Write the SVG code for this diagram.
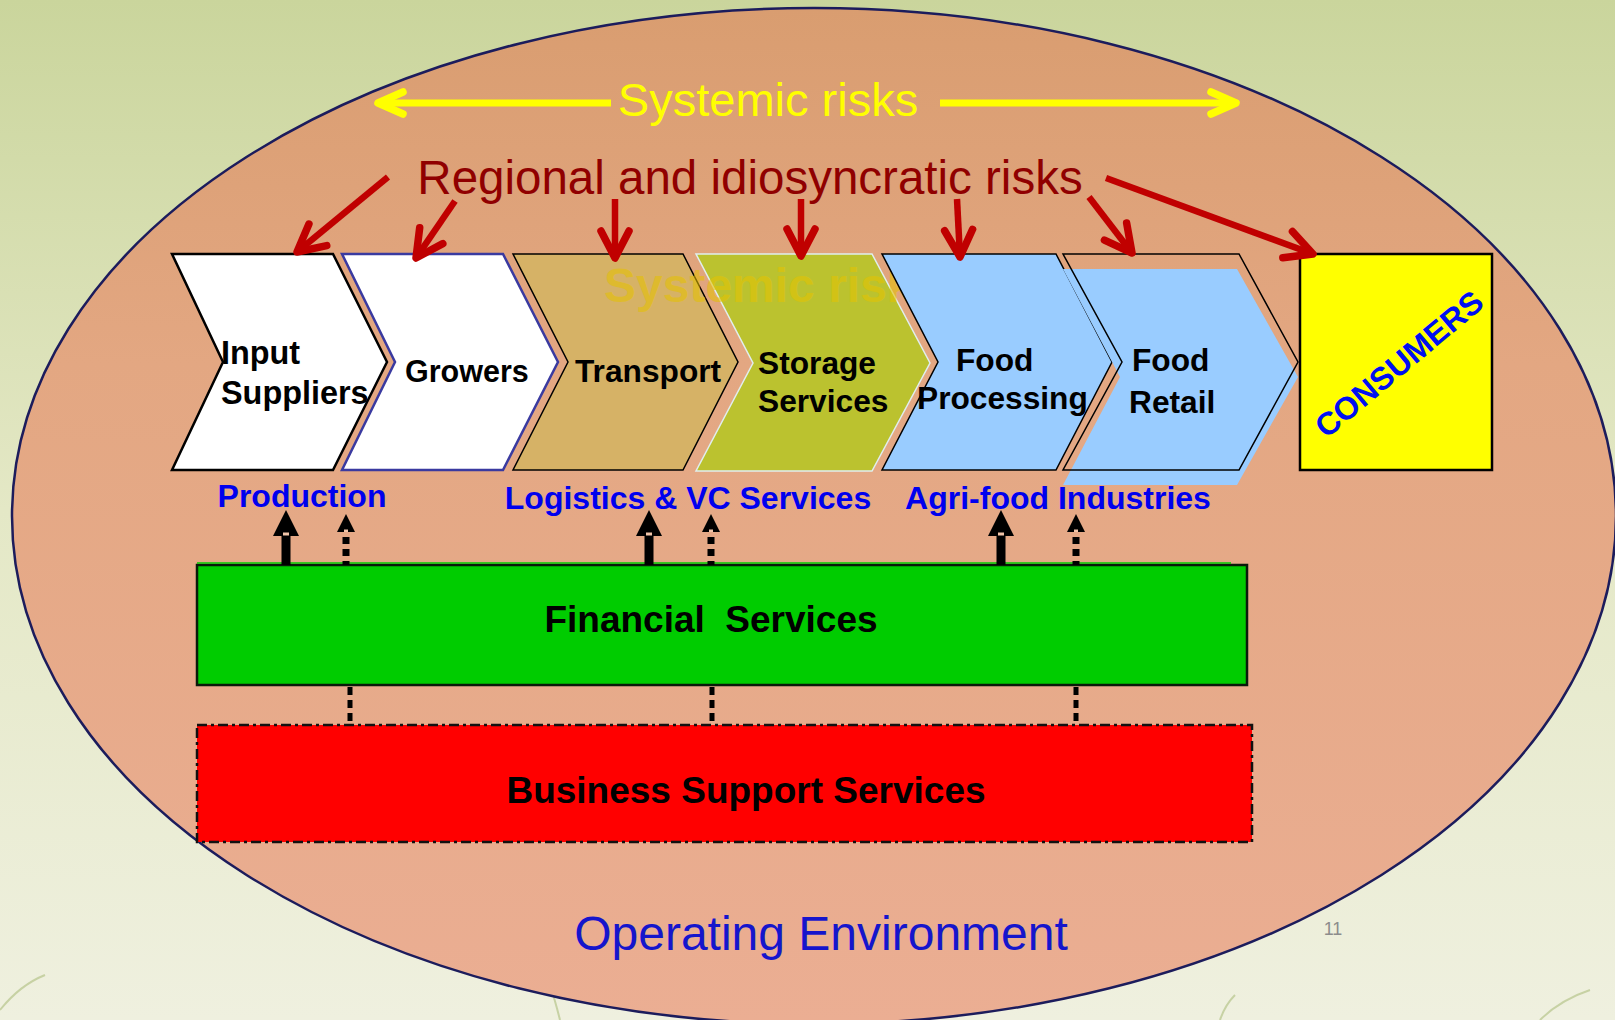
<svg xmlns="http://www.w3.org/2000/svg" width="1615" height="1020" viewBox="0 0 1615 1020">
<style>
.ch{font-family:"Liberation Sans",Arial,sans-serif;font-weight:bold;font-size:31.7px;fill:#000}
.lbl{font-family:"Liberation Sans",Arial,sans-serif;font-weight:bold;font-size:32px;fill:#0000ee;text-anchor:middle}
.big{font-family:"Liberation Sans",Arial,sans-serif;font-size:47px;text-anchor:middle}
.bar{font-family:"Liberation Sans",Arial,sans-serif;font-weight:bold;font-size:37px;fill:#000;text-anchor:middle;white-space:pre}
.red{stroke:#c00000;stroke-width:6.5;fill:none}
.yel{stroke:#ffff00;stroke-width:7;fill:none}
.dot{stroke:#000;stroke-width:7;stroke-dasharray:7 5;fill:none}
.dot2{stroke:#000;stroke-width:5;stroke-dasharray:8 5;fill:none}
</style>
<defs>
<linearGradient id="bg" x1="0" y1="0" x2="0" y2="1">
<stop offset="0" stop-color="#cad59c"/>
<stop offset="0.5" stop-color="#e4e8c6"/>
<stop offset="1" stop-color="#eff0df"/>
</linearGradient>
<linearGradient id="ell" x1="0" y1="0" x2="0" y2="1">
<stop offset="0" stop-color="#d99d70"/>
<stop offset="0.35" stop-color="#e3a782"/>
<stop offset="1" stop-color="#ebae93"/>
</linearGradient>
<marker id="rh" viewBox="-34 -20 40 40" markerWidth="40" markerHeight="40" refX="0" refY="0" orient="auto" markerUnits="userSpaceOnUse" overflow="visible">
<path d="M-27,-14 L0,0 L-27,14" stroke="#c00000" stroke-width="7.5" fill="none" stroke-linecap="round" stroke-linejoin="round"/>
</marker>
<marker id="yh" viewBox="-34 -20 40 40" markerWidth="40" markerHeight="40" refX="0" refY="0" orient="auto" markerUnits="userSpaceOnUse" overflow="visible">
<path d="M-25,-11 L0,0 L-25,11" stroke="#ffff00" stroke-width="7.5" fill="none" stroke-linecap="round" stroke-linejoin="round"/>
</marker>
</defs>
<rect width="1615" height="1020" fill="url(#bg)"/>
<g stroke="#9fb36a" stroke-width="2" fill="none" opacity="0.5">
<path d="M0,1010 Q20,985 45,975"/>
<path d="M560,1020 Q555,1000 550,985"/>
<path d="M870,1020 Q880,1000 905,985"/>
<path d="M1540,1020 Q1560,1000 1590,990"/>
<path d="M1220,1020 Q1225,1005 1235,995"/>
</g>
<g id="environment">
<ellipse cx="814" cy="516" rx="802" ry="508" fill="url(#ell)" stroke="#1c1c5c" stroke-width="2.5"/>
<text class="big" x="821" y="950" style="font-size:48px" fill="#1515cc">Operating Environment</text>
<text x="1333" y="935" font-family="Liberation Sans, Arial, sans-serif" font-size="18" fill="#8c8c8c" text-anchor="middle">11</text>
</g>
<g id="systemic-risks">
<text class="big" x="768" y="116" fill="#ffff00">Systemic risks</text>
</g>
<g id="regional-risks">
<text class="big" x="750" y="194" fill="#900000" style="font-size:47.5px">Regional and idiosyncratic risks</text>
</g>
<g id="input-suppliers">
<polygon points="172,254 333,254 387,362 333,470 172,470 223,362" fill="#fff" stroke="#000" stroke-width="2.5"/>
<text class="ch" x="221" y="364" style="font-size:32.4px">Input</text>
<text class="ch" x="221" y="404" style="font-size:32.4px">Suppliers</text>
</g>
<g id="growers">
<polygon points="342,254 503,254 558,362 503,470 342,470 395,362" fill="#fff" stroke="#3a3aa0" stroke-width="2.5"/>
<text class="ch" x="405" y="382" style="font-size:30.5px">Growers</text>
</g>
<g id="transport">
<polygon points="513,254 683,254 738,362 683,470 513,470 568,362" fill="#d6b266" stroke="#000" stroke-width="1.5"/>
<text class="ch" x="575" y="382">Transport</text>
</g>
<g id="storage-services">
<polygon points="696,254 872,254 930,363 872,471 696,471 753,363" fill="#bbc22f" stroke="#e0eeee" stroke-width="1.5"/>
<text class="ch" x="758" y="374">Storage</text>
<text class="ch" x="758" y="412">Services</text>
</g>
<text x="604" y="302" font-family="Liberation Sans, Arial, sans-serif" font-weight="bold" font-size="48" fill="#e6c200" opacity="0.55">Systemic risks</text>
<g id="food-processing">
<polygon points="882,254 1056,254 1112,362 1056,470 882,470 938,362" fill="#99ccff" stroke="#000" stroke-width="1.5"/>
<text class="ch" x="956" y="371">Food</text>
<text class="ch" x="917" y="409">Processing</text>
</g>
<g id="food-retail">
<polygon points="1063,269 1237,269 1298,377 1237,485 1063,485 1120,377" fill="#99ccff"/>
<polygon points="1063,254 1239,254 1298,362 1239,470 1063,470 1122,362" fill="none" stroke="#000" stroke-width="1.5"/>
<text class="ch" x="1132" y="371">Food</text>
<text class="ch" x="1129" y="413">Retail</text>
</g>
<g id="consumers">
<rect x="1300" y="254" width="192" height="216" fill="#ffff00" stroke="#000" stroke-width="2.5"/>
<text transform="translate(1399,364) rotate(-40)" x="0" y="11" font-family="Liberation Sans, Arial, sans-serif" font-weight="bold" font-size="32" fill="#0010f0" text-anchor="middle">CONSUMERS</text>
</g>
<g id="labels">
<text class="lbl" x="302" y="507">Production</text>
<text class="lbl" x="688" y="509">Logistics &amp; VC Services</text>
<text class="lbl" x="1058" y="509">Agri-food Industries</text>
</g>
<g id="financial-services">
<rect x="197" y="565" width="1050" height="120" fill="#00cc00" stroke="#0a1a0a" stroke-width="2.5"/>
<line x1="197" y1="563" x2="1231" y2="563" stroke="#00cc00" stroke-width="1.5"/>
<text class="bar" x="711" y="632">Financial  Services</text>
</g>
<g id="business-support-services">
<rect x="197" y="725" width="1055" height="117" fill="#ff0000" stroke="#111" stroke-width="2.5" stroke-dasharray="10 4 3 4"/>
<text class="bar" x="746" y="803">Business Support Services</text>
</g>
<g id="connectors">
<line class="yel" x1="611" y1="103" x2="378" y2="103" marker-end="url(#yh)"/>
<line class="yel" x1="940" y1="103" x2="1236" y2="103" marker-end="url(#yh)"/>
<line class="red" x1="388" y1="177" x2="297" y2="252" marker-end="url(#rh)"/>
<line class="red" x1="455" y1="201" x2="416" y2="258" marker-end="url(#rh)"/>
<line class="red" x1="615" y1="199" x2="615" y2="258" marker-end="url(#rh)"/>
<line class="red" x1="801" y1="199" x2="801" y2="256" marker-end="url(#rh)"/>
<line class="red" x1="957" y1="199" x2="960" y2="257" marker-end="url(#rh)"/>
<line class="red" x1="1089" y1="197" x2="1132" y2="253" marker-end="url(#rh)"/>
<line class="red" x1="1106" y1="178" x2="1313" y2="254" marker-end="url(#rh)"/>
<g fill="#000">
<rect x="281.5" y="535" width="9" height="30"/><polygon points="286,510 299,536 273,536"/>
<rect x="644.5" y="535" width="9" height="30"/><polygon points="649,510 662,536 636,536"/>
<rect x="996.5" y="535" width="9" height="30"/><polygon points="1001,510 1014,536 988,536"/>
<polygon points="346,514 355,532 337,532"/>
<polygon points="711,514 720,532 702,532"/>
<polygon points="1076,514 1085,532 1067,532"/>
</g>
<g fill="#f0c4a8">
<rect x="283" y="532.5" width="6" height="3"/>
<rect x="646" y="532.5" width="6" height="3"/>
<rect x="998" y="532.5" width="6" height="3"/>
<rect x="344" y="529.5" width="4" height="2.5"/>
<rect x="709" y="529.5" width="4" height="2.5"/>
<rect x="1074" y="529.5" width="4" height="2.5"/>
</g>
<line class="dot" x1="346" y1="537" x2="346" y2="565"/>
<line class="dot" x1="711" y1="537" x2="711" y2="565"/>
<line class="dot" x1="1076" y1="537" x2="1076" y2="565"/>
<line class="dot2" x1="350" y1="687" x2="350" y2="724"/>
<line class="dot2" x1="712" y1="687" x2="712" y2="724"/>
<line class="dot2" x1="1076" y1="687" x2="1076" y2="724"/>
</g>
</svg>
